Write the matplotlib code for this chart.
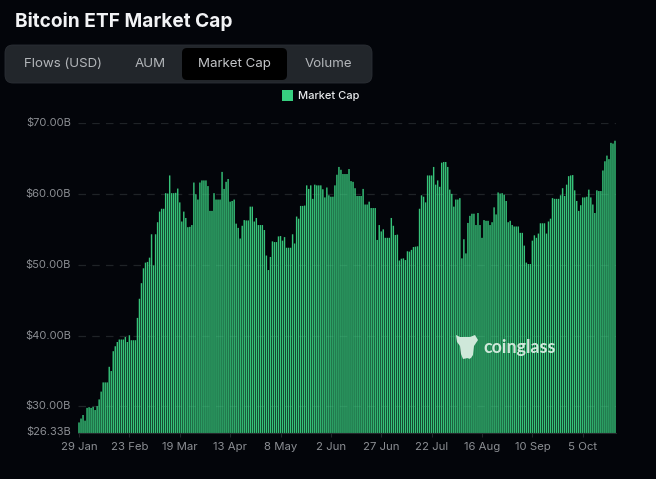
import matplotlib
matplotlib.use("Agg")
import matplotlib.pyplot as plt
from matplotlib.patches import FancyBboxPatch, Rectangle, Polygon
import pandas as pd

W, H = 656, 479
BG = "#03050a"
plt.rcParams['font.family'] = ['Inter', 'DejaVu Sans']

start_date = "2024-01-29"
market_cap = [
    27.75, 28.3, 28.8, 28.0, 29.8, 29.9, 29.8, 29.95, 29.5, 30.05, 31.0, 32.1, 33.4, 33.4, 33.4,
    35.6, 35.0, 37.8, 38.5, 39.1, 39.45, 39.45, 39.45, 39.8, 39.1, 40.05, 39.35, 39.35, 39.35,
    42.5, 45.2,
    47.4, 49.5, 50.3, 50.4, 51.0, 54.3, 49.9, 54.3, 56.0, 57.5, 57.9, 57.9, 60.1, 60.05, 62.6,
    60.1, 60.1, 60.15, 60.75, 58.8, 56.1, 57.5, 56.6, 55.3, 55.35, 55.6, 61.6, 59.95, 59.2,
    61.6, 61.9, 61.9, 61.9, 61.1, 57.6, 57.6, 60.1, 59.2, 59.2, 59.2, 63.1, 60.7, 61.7, 62.1,
    58.9, 59.0, 59.2, 55.8, 55.2, 53.7, 55.5, 56.3, 56.25, 56.25, 58.2,
    58.2, 56.1, 56.6, 55.6, 55.6, 55.6, 54.9, 51.3, 49.25, 51.1, 53.3, 53.2, 53.2, 54.0, 54.05,
    53.4, 53.9, 52.4, 52.4, 52.4, 54.3, 53.0, 56.8, 56.5, 58.3, 58.3, 58.35, 61.2, 60.7, 61.2,
    59.3, 61.3, 61.2, 61.2, 61.2, 60.65, 59.5, 60.9, 59.8, 59.6, 59.6, 61.2, 62.7, 63.8, 63.4,
    62.8, 62.8, 62.8, 63.5, 61.8, 61.7, 60.8, 59.7, 59.7, 59.7, 60.7, 58.5, 58.5, 58.9, 58.0,
    58.0, 58.0, 53.5, 55.6, 54.7, 55.0, 53.8, 53.8, 53.8, 56.6, 55.5, 54.2, 54.25, 50.6, 50.85,
    50.9, 50.66, 51.9, 51.85, 52.1, 52.5, 52.55, 52.6, 57.9, 59.8, 59.6, 58.8, 62.6, 62.6, 62.6,
    63.8, 61.3, 61.9, 61.0,
    64.4, 64.5, 64.5, 63.8, 60.6, 60.0, 58.2, 59.2, 59.2, 59.4, 50.9, 53.6, 51.6, 55.9, 56.9,
    57.2, 57.2, 55.6, 57.3, 55.6, 53.8, 56.3, 56.2, 56.2, 55.6, 56.0, 58.1, 57.1, 60.2, 60.05,
    60.1, 59.9, 59.0, 56.0, 56.2, 55.6, 55.4, 55.4, 55.4, 54.5, 54.5, 52.7, 50.3, 50.1, 50.1,
    53.4, 54.15, 53.8, 54.4, 55.85, 55.85, 55.85, 54.4, 56.1, 56.5, 59.4, 59.3, 59.3, 59.3, 59.8,
    60.8, 59.7, 61.3, 62.5, 62.6, 62.65, 60.5, 59.0, 57.6, 58.4, 59.5, 59.5, 59.6, 60.6, 59.5,
    58.5, 57.3, 60.5, 60.4, 60.4, 63.3, 64.6, 65.4, 64.9, 67.2, 67.1, 67.5,
]
y_ticks = [26.33, 30, 40, 50, 60, 70]
y_labels = ["$26.33B", "$30.00B", "$40.00B", "$50.00B", "$60.00B", "$70.00B"]
x_labels = ["29 Jan", "23 Feb", "19 Mar", "13 Apr", "8 May", "2 Jun", "27 Jun",
            "22 Jul", "16 Aug", "10 Sep", "5 Oct"]
tabs = ["Flows (USD)", "AUM", "Market Cap", "Volume"]
tab_centers = [63, 150, 234.5, 328]
series_name = "Market Cap"
title = "Bitcoin ETF Market Cap"

dates = pd.date_range(start_date, periods=len(market_cap), freq="D")
positions = list(range(len(dates)))

fig = plt.figure(figsize=(W / 100, H / 100), dpi=100, facecolor=BG)
ui = fig.add_axes([0, 0, 1, 1], zorder=0)
ui.set_xlim(0, W); ui.set_ylim(H, 0); ui.axis("off")

L, R, T, B = 78, 616, 123, 432.5
ax = fig.add_axes([L / W, 1 - B / H, (R - L) / W, (B - T) / H], zorder=1)
ax.set_facecolor("none")
for s in ax.spines.values():
    s.set_visible(False)
ax.spines["bottom"].set_visible(True)
ax.spines["bottom"].set_color("#25282c")
ax.spines["bottom"].set_linewidth(0.8)

ax.set_axisbelow(True)
ax.yaxis.grid(True, color="#1f2327", linewidth=0.9, linestyle=(0, (6, 5)))
ax.xaxis.grid(False)
bars = ax.bar(positions, market_cap, width=0.7, color="#39cf80", linewidth=0, alpha=0.95)
for b in bars:
    b.set_snap(False)
ax.set_xlim(-0.5, len(market_cap) - 0.5)
ax.set_ylim(26.33, 70)
ax.set_yticks(y_ticks)
ax.set_yticklabels(y_labels)
ax.set_xticks(positions[::25][:len(x_labels)])
ax.set_xticklabels(x_labels)
ax.tick_params(axis="y", length=0, pad=5, labelsize=8, labelcolor="#8b8e93")
ax.tick_params(axis="x", length=3, width=0.7, color="#25282c", pad=4, labelsize=8.2, labelcolor="#8b8e93")
for lab in ax.get_yticklabels():
    lab.set_verticalalignment("center")

ui.text(15, 21.5, title, fontsize=13.75, fontweight="bold", color="#f2f3f5", va="center", ha="left")

ui.add_patch(FancyBboxPatch((5 + 8, 45 + 8), 367 - 16, 38 - 16, boxstyle="round,pad=8,rounding_size=8",
                            fc="#22262b", ec="#2b2f35", lw=0.6))
ui.add_patch(FancyBboxPatch((182 + 5, 48 + 5), 105 - 10, 32 - 10, boxstyle="round,pad=5,rounding_size=5",
                            fc="#000000", ec="none"))
for t, c in zip(tabs, tab_centers):
    ui.text(c, 63.5, t, fontsize=9.6, color="#b3b6ba" if t != "Market Cap" else "#c4c6c9", va="center", ha="center")

ui.add_patch(Rectangle((282, 90), 11, 10.5, fc="#37cf80", ec="none"))
ui.text(298, 95.5, series_name, fontsize=8, fontweight="medium", color="#e8eaec", va="center", ha="left")

wm = fig.add_axes([0, 0, 1, 1], zorder=2)
wm.set_xlim(0, W); wm.set_ylim(H, 0); wm.axis("off"); wm.patch.set_alpha(0)
wcol = "#cfe8da"
wm.add_patch(Polygon([(456, 335), (460, 337), (470, 337), (475, 335), (478, 340), (474, 346),
                      (473, 355), (471, 358), (469, 359), (468, 358), (463, 359), (461, 354), (460, 346), (457, 342)],
                     closed=True, fc=wcol, ec="none"))
wm.text(483, 347.5, "coinglass", fontsize=12.9, fontweight="bold", color=wcol, va="center", ha="left",
        family=["Lato", "DejaVu Sans"])

fig.savefig("out.png", dpi=100, facecolor=BG)
